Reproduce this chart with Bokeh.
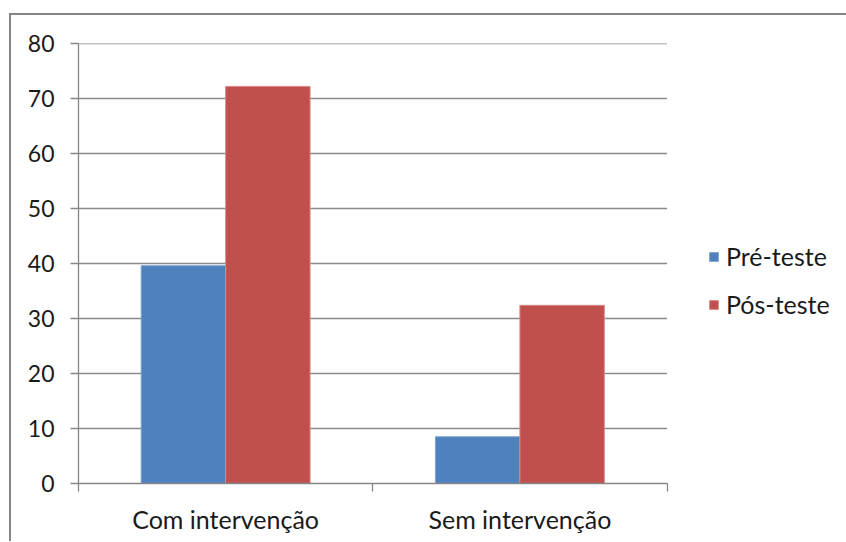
from bokeh.plotting import figure
from bokeh.models import FixedTicker, Legend, LegendItem, ColumnDataSource
from bokeh.embed import file_html
from bokeh.resources import INLINE

categories = ["Com intervenção", "Sem intervenção"]
series_names = ["Pré-teste", "Pós-teste"]
pre_teste = [39.6, 8.5]
pos_teste = [72.2, 32.4]
y_ticks = [0, 10, 20, 30, 40, 50, 60, 70, 80]

colors = ["#4F81BD", "#C0504D"]
FONT = "Lato"
FS_Y = "23px"
FS = "25px"
bar_w = 0.287

n = len(categories)
# plot area spans 587px for the categories; the frame extends to the right edge (768px) for the legend
x_end = n * 768 / 587

centers = [i + 0.5 for i in range(n)]
src_pre = ColumnDataSource(dict(x=[c - bar_w / 2 for c in centers], top=pre_teste))
src_pos = ColumnDataSource(dict(x=[c + bar_w / 2 for c in centers], top=pos_teste))

p = figure(width=837, height=528, x_range=(0, x_end), y_range=(0, 80),
           output_backend="svg", toolbar_location=None,
           min_border_left=67, min_border_top=28, min_border_right=0, min_border_bottom=60)
p.styles = {"border-left": "2px solid #868686", "border-top": "2px solid #868686",
            "margin-left": "9px", "margin-top": "13px"}
p.outline_line_color = None
p.background_fill_color = "white"
p.border_fill_color = "white"

# horizontal gridlines limited to the category area
grid_y = [t for t in y_ticks if t > 0]
p.segment(x0=[0] * len(grid_y), x1=[n] * len(grid_y), y0=grid_y, y1=grid_y,
          line_color="#8a8a8a", line_width=1.3)
p.xgrid.visible = False
p.ygrid.visible = False

r1 = p.vbar(x="x", top="top", width=bar_w, source=src_pre, fill_color=colors[0],
            line_color="#7fa3d0", line_width=1)
r2 = p.vbar(x="x", top="top", width=bar_w, source=src_pos, fill_color=colors[1],
            line_color="#d98a88", line_width=1)

# y axis
p.yaxis.ticker = FixedTicker(ticks=y_ticks)
p.yaxis.axis_line_color = "#868686"
p.yaxis.axis_line_width = 1.3
p.yaxis.major_tick_line_color = "#868686"
p.yaxis.major_tick_line_width = 1.3
p.yaxis.major_tick_out = 8
p.yaxis.major_tick_in = 0
p.yaxis.minor_tick_line_color = None
p.yaxis.major_label_text_font = FONT
p.yaxis.major_label_text_font_size = FS_Y
p.yaxis.major_label_text_color = "#1a1a1a"
p.yaxis.major_label_standoff = 16

# x axis
p.xaxis.ticker = FixedTicker(ticks=centers, minor_ticks=[float(i) for i in range(n + 1)])
p.xaxis.bounds = (0, n)
p.xaxis.major_label_overrides = {c: nm for c, nm in zip(centers, categories)}
p.xaxis.axis_line_color = "#868686"
p.xaxis.axis_line_width = 1.3
p.xaxis.major_tick_line_color = None
p.xaxis.major_tick_out = 0
p.xaxis.major_tick_in = 0
p.xaxis.minor_tick_line_color = "#868686"
p.xaxis.minor_tick_line_width = 1.3
p.xaxis.minor_tick_out = 8
p.xaxis.minor_tick_in = 0
p.xaxis.major_label_text_font = FONT
p.xaxis.major_label_text_font_size = FS
p.xaxis.major_label_text_color = "#1a1a1a"
p.xaxis.major_label_standoff = 12

legend = Legend(items=[LegendItem(label=series_names[0], renderers=[r1]),
                       LegendItem(label=series_names[1], renderers=[r2])],
                location=(630, 164), orientation="vertical")
legend.border_line_color = None
legend.background_fill_alpha = 0
legend.padding = 0
legend.margin = 0
legend.spacing = 18
legend.glyph_width = 11
legend.glyph_height = 11
legend.label_height = 25
legend.label_standoff = 7
legend.label_text_font = FONT
legend.label_text_font_size = FS
legend.label_text_color = "#1a1a1a"
p.add_layout(legend)

open("out.html", "w").write(file_html(p, INLINE))
